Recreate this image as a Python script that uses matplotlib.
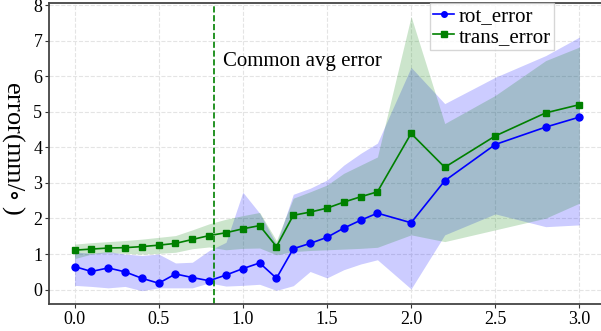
import matplotlib
matplotlib.use("Agg")
import matplotlib.pyplot as plt
import numpy as np

plt.rcParams["font.family"] = ["Liberation Serif", "DejaVu Serif"]
plt.rcParams["mathtext.fontset"] = "stix"

# sample positions
x = [0.0, 0.1, 0.2, 0.3, 0.4, 0.5, 0.6, 0.7, 0.8, 0.9, 1.0, 1.1, 1.2,
     1.3, 1.4, 1.5, 1.6, 1.7, 1.8, 2.0, 2.2, 2.5, 2.8, 3.0]

rot_error = [0.65, 0.51, 0.61, 0.50, 0.32, 0.18, 0.44, 0.34, 0.25, 0.41, 0.59, 0.75, 0.32,
             1.15, 1.30, 1.47, 1.73, 1.95, 2.15, 1.88, 3.06, 4.08, 4.57, 4.85]
rot_low = [0.12, 0.09, 0.05, 0.09, -0.03, 0.05, 0.05, 0.05, 0.19, 0.10, 0.12, 0.15, -0.02,
           0.11, 0.51, 0.33, 0.56, 0.72, 0.84, 0.02, 1.54, 2.13, 1.77, 1.82]
rot_high = [1.06, 1.02, 1.07, 1.00, 0.96, 1.00, 0.75, 0.77, 1.10, 1.33, 2.74, 2.15, 1.28,
            2.68, 2.85, 3.08, 3.50, 3.83, 4.12, 6.25, 5.23, 5.97, 6.58, 7.10]

trans_error = [1.11, 1.14, 1.17, 1.18, 1.21, 1.25, 1.30, 1.41, 1.52, 1.60, 1.71, 1.80, 1.21,
               2.09, 2.18, 2.29, 2.46, 2.61, 2.75, 4.39, 3.44, 4.32, 4.97, 5.20]
trans_low = [0.87, 1.00, 1.04, 1.02, 1.00, 1.02, 1.05, 1.15, 1.20, 1.12, 1.16, 1.17, 0.98,
             1.07, 1.10, 1.12, 1.14, 1.16, 1.19, 1.54, 1.35, 1.68, 2.01, 2.43]
trans_high = [1.28, 1.32, 1.35, 1.38, 1.42, 1.47, 1.52, 1.68, 1.85, 1.98, 2.08, 2.17, 1.38,
              2.57, 2.75, 2.94, 3.27, 3.50, 3.73, 7.68, 4.67, 5.46, 6.44, 6.82]

common_x = 0.83
common_label = "Common avg error"

fig = plt.figure(figsize=(6.01, 3.31), dpi=100)
ax = fig.add_axes([0.082, 0.082, 0.924, 0.908])

ax.fill_between(x, rot_low, rot_high, color="b", alpha=0.2, linewidth=0)
ax.fill_between(x, trans_low, trans_high, color="g", alpha=0.2, linewidth=0)
ax.plot(x, rot_error, "b-o", lw=1.2, ms=5, label="rot_error")
ax.plot(x, trans_error, "g-s", lw=1.2, ms=5, label="trans_error")

ax.axvline(common_x, color="g", ls="--", lw=1.2)
ax.text(common_x + 0.05, 6.4, common_label, fontsize=15, va="center", ha="left")

ax.set_xlim(-0.15, 3.15)
ax.set_ylim(-0.4, 8.05)
ax.set_xticks([0.0, 0.5, 1.0, 1.5, 2.0, 2.5, 3.0])
ax.set_yticks(range(0, 9))
ax.tick_params(labelsize=13, length=3, color="#333333", pad=2)
ax.grid(True, ls="--", color="#e4e4e4", lw=0.8)
ax.set_axisbelow(True)
for s in ax.spines.values():
    s.set_color("#444444")
    s.set_linewidth(1.3)

ax.set_ylabel("error(mm/$\\circ$ )", fontsize=19, rotation=270, va="center", ha="center")
ax.yaxis.set_label_coords(-0.064, 0.52)

leg = ax.legend(loc="upper right", bbox_to_anchor=(0.908, 1.0), fontsize=15,
                handlelength=1.0, handletextpad=0.2, borderpad=0.15,
                labelspacing=0.05, borderaxespad=0.0, fancybox=False,
                edgecolor="#cccccc", markerscale=0.8)

fig.savefig("out.png", dpi=100)
